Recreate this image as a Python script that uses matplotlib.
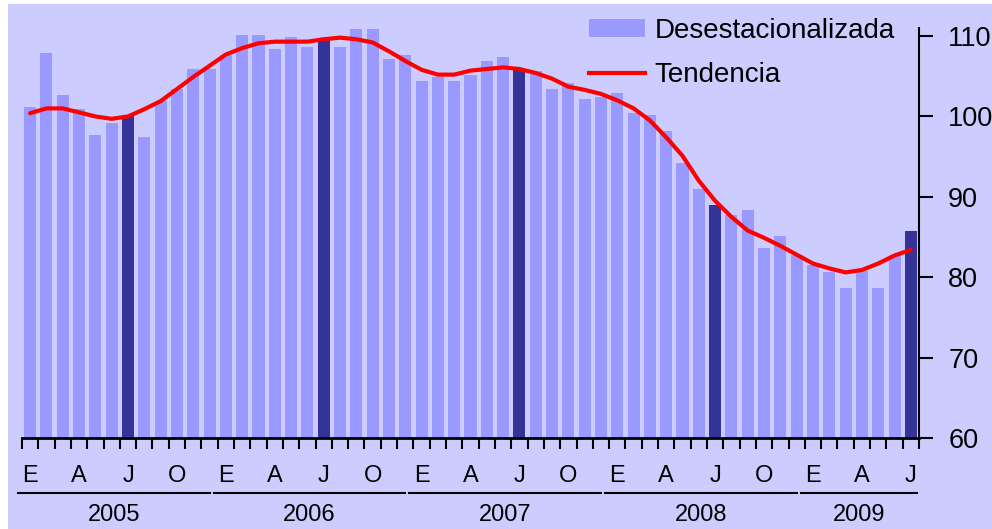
import matplotlib
matplotlib.use("Agg")
import matplotlib.pyplot as plt
from matplotlib.patches import Rectangle, Patch
from matplotlib.lines import Line2D
import numpy as np

plt.rcParams['font.family'] = ['Liberation Sans', 'DejaVu Sans']

# Monthly data Jan 2005 - Jul 2009
desest = [101.2, 107.9, 102.7, 100.9, 97.7, 99.2, 100.0, 97.5, 101.9, 103.4, 105.9, 105.9,
          107.7, 110.1, 110.1, 108.4, 109.9, 108.6, 109.6, 108.6, 110.9, 110.9, 107.1, 107.6,
          104.4, 104.9, 104.4, 105.2, 106.9, 107.4, 105.9, 105.7, 103.4, 104.2, 102.2, 102.4,
          102.9, 100.4, 100.2, 98.2, 94.2, 91.0, 89.0, 87.8, 88.3, 83.6, 85.1, 82.8,
          81.5, 80.6, 78.6, 80.8, 78.6, 82.8, 85.8]
tendencia = [100.4, 101.0, 101.0, 100.5, 100.0, 99.7, 100.0, 100.9, 101.9, 103.4, 104.9, 106.3,
             107.7, 108.5, 109.1, 109.3, 109.3, 109.3, 109.6, 109.8, 109.6, 109.2, 108.1, 106.9,
             105.8, 105.2, 105.2, 105.7, 105.9, 106.1, 105.9, 105.4, 104.7, 103.7, 103.3, 102.8,
             102.0, 101.0, 99.5, 97.4, 95.1, 92.0, 89.5, 87.5, 85.8, 84.9, 83.9, 82.8,
             81.7, 81.1, 80.6, 80.9, 81.7, 82.7, 83.4]
month_letters = ['E', 'A', 'J', 'O']
years = ['2005', '2006', '2007', '2008', '2009']
yticks = [60, 70, 80, 90, 100, 110]

BG = '#CCCCFF'
LIGHT = '#9999FF'
DARK = '#333399'

W, H = 992, 529
fig = plt.figure(figsize=(W / 100, H / 100), dpi=100, facecolor='white')
fig.patches.append(Rectangle((8 / W, 0), 1 - 8 / W, 1 - 4 / H, transform=fig.transFigure,
                             facecolor=BG, edgecolor='none', zorder=-10))

ax = fig.add_axes([22 / W, 1 - 438 / H, (919 - 22) / W, (438 - 28) / H])
ax.set_facecolor(BG)
ax.patch.set_alpha(0)

n = len(desest)
x = np.arange(n)
colors = [DARK if i % 12 == 6 else LIGHT for i in range(n)]
ax.bar(x, [v - 60 for v in desest], bottom=60, width=0.74, color=colors, zorder=2)
ax.plot(x, tendencia, color='#FF0000', lw=3.0, zorder=3, solid_capstyle='round')

ax.set_xlim(-0.5, n - 0.5)
ax.set_ylim(60, 111)

for s in ['top', 'left']:
    ax.spines[s].set_visible(False)
ax.spines['bottom'].set_linewidth(2)
ax.spines['right'].set_linewidth(1.5)

ax.yaxis.tick_right()
ax.set_yticks(yticks)
ax.set_yticklabels([str(v) for v in yticks], fontsize=19.5)
ax.tick_params(axis='y', direction='out', length=10, width=1.5, pad=11)

ax.set_xticks(np.arange(-0.5, n, 1.0))
ax.set_xticklabels([])
ax.tick_params(axis='x', direction='out', length=8, width=1.5)

trans = ax.get_xaxis_transform()
for i in range(0, n, 3):
    ax.text(i, -(476 - 438) / (438 - 28), month_letters[(i % 12) // 3], transform=trans,
            ha='center', va='center', fontsize=17, clip_on=False)

for k, yr in enumerate(years):
    x0 = 12 * k - 0.75
    x1 = min(12 * k + 11.0, n - 0.6)
    yline = -(493 - 438) / (438 - 28)
    ax.add_line(Line2D([x0, x1], [yline, yline], transform=trans, color='black', lw=1.5,
                       clip_on=False))
    ax.text((x0 + x1) / 2, -(515 - 438) / (438 - 28), yr, transform=trans,
            ha='center', va='center', fontsize=17, clip_on=False)

handles = [Patch(facecolor=LIGHT, edgecolor='none'), Line2D([], [], color='#FF0000', lw=3)]
fig.legend(handles, ['Desestacionalizada', 'Tendencia'], loc='upper left',
           bbox_to_anchor=(589 / W, 1 - 18 / H), frameon=False, fontsize=20,
           handlelength=2.0, handleheight=0.6, handletextpad=0.35, labelspacing=0.66,
           borderpad=0, borderaxespad=0)

fig.savefig('out.png', dpi=100, facecolor=fig.get_facecolor())
